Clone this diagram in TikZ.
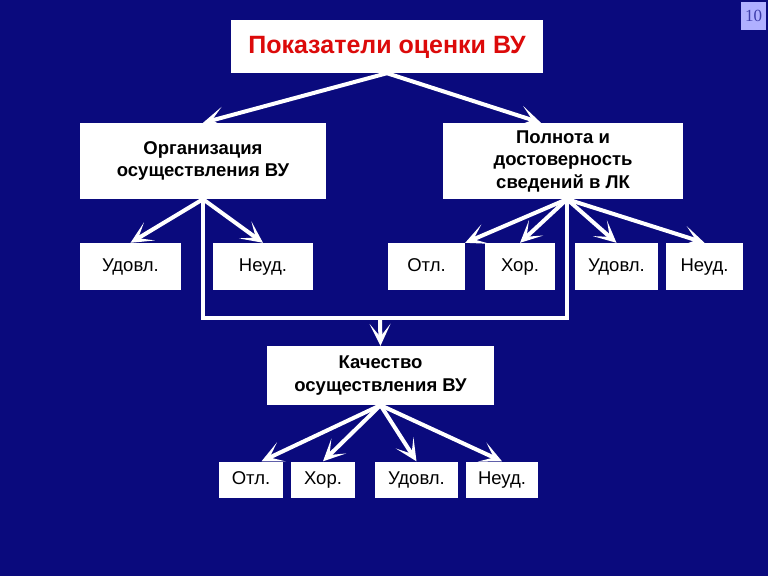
\documentclass[tikz,border=0pt]{standalone}
\usepackage{fontspec}
\setmainfont{Liberation Sans}
\newfontfamily\numfont{Liberation Serif}
\usetikzlibrary{arrows.meta}
\definecolor{navy}{RGB}{10,10,125}
\definecolor{pagebox}{RGB}{176,176,255}
\definecolor{pagetext}{RGB}{60,60,170}
\definecolor{titlered}{RGB}{220,10,10}
\begin{document}
\begin{tikzpicture}[x=1pt,y=-1pt,>={Stealth[length=22pt,width=21pt,inset=13pt]},
  box/.style={fill=white,inner sep=0pt,align=center,font=\fontsize{18.5}{22}\selectfont},
  grade/.style={box,text height=13pt,text depth=4pt},
  head/.style={box,font=\fontsize{18.5}{22.5}\selectfont\bfseries},
  wire/.style={white,line width=4pt,line join=miter}]
\fill[navy] (0,0) rectangle (768,576);
\useasboundingbox (0,0) rectangle (768,576);
\node[fill=pagebox,minimum width=25pt,minimum height=28pt,inner sep=0pt,text=pagetext,font=\numfont\fontsize{17}{18}\selectfont] (num) at (753.5,16) {10};
\node[grade,minimum width=312pt,minimum height=53pt,text=titlered,font=\fontsize{25}{28}\selectfont\bfseries,text height=18pt,text depth=5pt] (title) at (387,46.5) {Показатели оценки ВУ};
\node[head,minimum width=246pt,minimum height=76pt] (org) at (203,161) {Организация\\осуществления ВУ};
\node[head,minimum width=240pt,minimum height=76pt] (full) at (563,161) {Полнота и\\достоверность\\сведений в ЛК};
\node[grade,minimum width=101pt,minimum height=47pt] (orgsat) at (130.5,266.5) {Удовл.};
\node[grade,minimum width=100pt,minimum height=47pt] (orgunsat) at (263,266.5) {Неуд.};
\node[grade,minimum width=77pt,minimum height=47pt] (fexc) at (426.5,266.5) {Отл.};
\node[grade,minimum width=70pt,minimum height=47pt] (fgood) at (520,266.5) {Хор.};
\node[grade,minimum width=83pt,minimum height=47pt] (fsat) at (616.5,266.5) {Удовл.};
\node[grade,minimum width=77pt,minimum height=47pt] (funsat) at (704.5,266.5) {Неуд.};
\node[head,minimum width=227pt,minimum height=59pt] (qual) at (380.5,375.5) {Качество\\осуществления ВУ};
\node[grade,minimum width=64pt,minimum height=36pt] (qexc) at (251,479.5) {Отл.};
\node[grade,minimum width=64pt,minimum height=36pt] (qgood) at (323,479.5) {Хор.};
\node[grade,minimum width=83pt,minimum height=36pt] (qsat) at (416.5,479.5) {Удовл.};
\node[grade,minimum width=72pt,minimum height=36pt] (qunsat) at (502,479.5) {Неуд.};
\coordinate (join) at (380,318);
\draw[wire,->] (title.south) -- (org.north);
\draw[wire,->] (title.south) -- (full.120);
\draw[wire,->] (org.south) -- (orgsat.north);
\draw[wire,->] (org.south) -- (orgunsat.north);
\draw[wire,->] ([xshift=4pt]full.south) -- (fexc.north east);
\draw[wire,->] ([xshift=4pt]full.south) -- (fgood.north);
\draw[wire,->] ([xshift=4pt]full.south) -- (fsat.north);
\draw[wire,->] ([xshift=4pt]full.south) -- (funsat.north);
\draw[wire] (org.south) |- (join) -| ([xshift=4pt]full.south);
\draw[wire,->] (join) -- (qual.north);
\draw[wire,->] (qual.south) -- (qexc.60);
\draw[wire,->] (qual.south) -- (qgood.north);
\draw[wire,->] (qual.south) -- (qsat.north);
\draw[wire,->] (qual.south) -- (qunsat.north);
\end{tikzpicture}
\end{document}
